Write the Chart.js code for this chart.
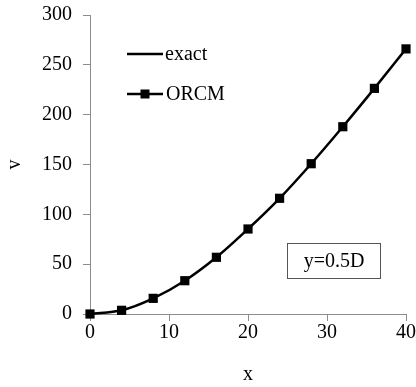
<!DOCTYPE html>
<html>
<head>
<meta charset="utf-8">
<script src="https://cdn.jsdelivr.net/npm/chart.js@4/dist/chart.umd.min.js"></script>
<style>
html,body{margin:0;padding:0;background:#fff;}
#wrap{width:416px;height:387px;position:relative;}
</style>
</head>
<body>
<div id="wrap"><canvas id="c" width="416" height="387"></canvas></div>
<script>
const xValues = [0, 4, 8, 12, 16, 20, 24, 28, 32, 36, 40];
const exactValues = [0, 3.7, 15.7, 33.4, 56.9, 85.3, 116.1, 150.8, 187.9, 226.4, 266];
const orcmValues = [0, 3.7, 15.7, 33.4, 56.9, 85.3, 116.1, 150.8, 187.9, 226.4, 266];
const seriesNames = ["exact", "ORCM"];
const annotationText = "y=0.5D";
const xTitle = "x";
const yTitle = "v";

const FONT = "'Liberation Serif', 'Times New Roman', serif";
const axisGray = "#8c8c8c";

const legendPlugin = {
  id: 'inlineLegend',
  afterDraw(chart) {
    const ctx = chart.ctx;
    ctx.save();
    ctx.font = "20px " + FONT;
    ctx.fillStyle = "#000";
    ctx.textBaseline = "middle";
    ctx.textAlign = "left";
    // exact
    ctx.strokeStyle = "#000";
    ctx.lineWidth = 2.5;
    ctx.beginPath(); ctx.moveTo(127, 54); ctx.lineTo(163, 54); ctx.stroke();
    ctx.fillText(seriesNames[0], 165, 55);
    // ORCM
    ctx.beginPath(); ctx.moveTo(127, 94); ctx.lineTo(163, 94); ctx.stroke();
    ctx.fillRect(145 - 4.5, 94 - 4.5, 9, 9);
    ctx.fillText(seriesNames[1], 166, 95);
    // annotation box
    ctx.lineWidth = 1;
    ctx.strokeStyle = "#555";
    ctx.strokeRect(287.5, 243.5, 93, 35);
    ctx.textAlign = "center";
    ctx.fillText(annotationText, 334, 262);
    ctx.restore();
  }
};

new Chart(document.getElementById('c'), {
  type: 'scatter',
  data: {
    datasets: [
      {
        label: seriesNames[0],
        data: xValues.map((x, i) => ({x: x, y: exactValues[i]})),
        showLine: true,
        borderColor: '#000',
        borderWidth: 2.5,
        pointRadius: 0,
        tension: 0.4,
        cubicInterpolationMode: 'monotone',
        clip: false
      },
      {
        label: seriesNames[1],
        data: xValues.map((x, i) => ({x: x, y: orcmValues[i]})),
        showLine: false,
        pointStyle: 'rect',
        pointRadius: 6.5,
        pointBackgroundColor: '#000',
        pointBorderColor: '#000',
        pointBorderWidth: 0,
        clip: false
      }
    ]
  },
  options: {
    responsive: false,
    animation: false,
    devicePixelRatio: 1,
    layout: {padding: {left: 3, right: 10, top: 15, bottom: 0}},
    plugins: {legend: {display: false}, tooltip: {enabled: false}},
    scales: {
      x: {
        type: 'linear', min: 0, max: 40,
        ticks: {stepSize: 10, color: '#000', font: {family: FONT, size: 20}, padding: 0, maxRotation: 0},
        grid: {drawOnChartArea: false, drawTicks: true, tickLength: 7, color: axisGray},
        border: {color: axisGray, width: 1},
        title: {display: true, text: xTitle, color: '#000', font: {family: FONT, size: 20}, padding: {top: 0, bottom: 0}},
        afterFit(s) { s.height = 73; s.paddingLeft = 0; s.paddingRight = 0; }
      },
      y: {
        type: 'linear', min: 0, max: 300,
        ticks: {stepSize: 50, color: '#000', font: {family: FONT, size: 20}, padding: 11},
        grid: {drawOnChartArea: false, drawTicks: true, tickLength: 7, color: axisGray},
        border: {color: axisGray, width: 1},
        title: {display: true, text: yTitle, color: '#000', font: {family: FONT, size: 20}, padding: {top: 0, bottom: 0}},
        afterFit(s) { s.width = 87; s.paddingTop = 0; s.paddingBottom = 0; }
      }
    }
  },
  plugins: [legendPlugin]
});
</script>
</body>
</html>
